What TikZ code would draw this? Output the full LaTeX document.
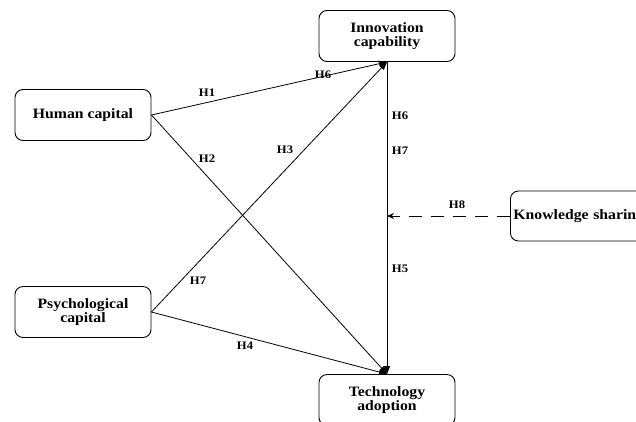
\documentclass[tikz,border=0pt]{standalone}
\usepackage{fontspec}
\setmainfont{Liberation Serif}[FakeStretch=1.1]
\usetikzlibrary{arrows.meta, positioning}

\newcommand{\boxfont}{\bfseries\fontsize{14.3}{14.5}\selectfont}
\newcommand{\hypfont}{\bfseries\fontsize{11.5}{13}\selectfont}

\begin{document}
\begin{tikzpicture}[x=1pt, y=-1pt,
    box/.style={draw, rounded corners=8pt, line width=0.9pt, minimum width=136pt,
                minimum height=51pt, align=center, font=\boxfont, inner sep=2pt},
    hyp/.style={font=\hypfont, inner sep=0pt},
    arr/.style={-{Triangle[length=8pt, width=6pt]}, line width=0.8pt},
    darr/.style={-{Stealth[length=7pt, width=6pt]}, line width=0.8pt,
                 dash pattern=on 13pt off 9pt}
]
    \useasboundingbox (0,0) rectangle (636,421);
    \clip (0,0) rectangle (636,421);

    \node[box] (ic) at (387,36) {Innovation\\capability};
    \node[box] (hc) at (83,115) {Human capital};
    \node[box] (pc) at (83,312) {Psychological\\capital};
    \node[box] (ta) at (387,400) {Technology\\adoption};
    \node[box, minimum height=50pt, text width=144pt, align=left, inner xsep=3pt,
          anchor=west] (ks) at (510,216) {Knowledge sharin};

    % direct paths
    \draw[arr] (hc.east) -- (ic.south);
    \draw[arr] (hc.east) -- (ta.north);
    \draw[arr] (pc.east) -- (ic.south);
    \draw[arr] (pc.east) -- (ta.north);
    \draw[arr] (ic.south) -- (ta.north);

    % moderation
    \coordinate (mod) at (ic.south |- ks.west);
    \draw[darr] (ks.west) -- (mod);

    % hypotheses
    \node[hyp] (h1) at (207,93) {H1};
    \node[hyp] (h6a) at (323,75) {H6};
    \node[hyp] (h2) at (207,159) {H2};
    \node[hyp] (h3) at (285,150) {H3};
    \node[hyp] (h7a) at (198,281) {H7};
    \node[hyp] (h4) at (245,346) {H4};
    \node[hyp] (h6b) at (400,116) {H6};
    \node[hyp] (h7b) at (400,151) {H7};
    \node[hyp] (h8) at (457,205) {H8};
    \node[hyp] (h5) at (400,269) {H5};
\end{tikzpicture}
\end{document}
